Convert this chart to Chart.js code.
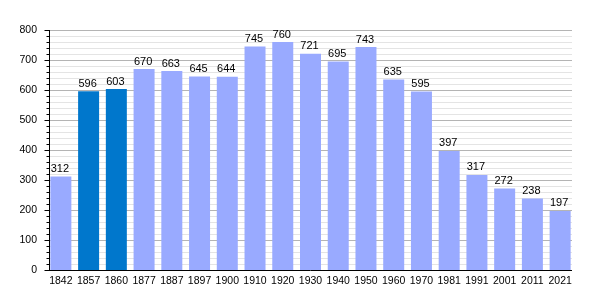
<!DOCTYPE html>
<html>
<head>
<meta charset="utf-8">
<script src="https://cdn.jsdelivr.net/npm/chart.js@4/dist/chart.umd.min.js"></script>
<style>
  html, body { margin: 0; padding: 0; background: #fff; }
  #wrap { width: 600px; height: 300px; }
</style>
</head>
<body>
<div id="wrap"><canvas id="pop-chart"></canvas></div>
<script>
// Population by census year
const years = ["1842", "1857", "1860", "1877", "1887", "1897", "1900", "1910", "1920", "1930",
               "1940", "1950", "1960", "1970", "1981", "1991", "2001", "2011", "2021"];
const population = [312, 596, 603, 670, 663, 645, 644, 745, 760, 721,
                    695, 743, 635, 595, 397, 317, 272, 238, 197];
// highlighted years (darker bars)
const highlighted = ["1857", "1860"];

const lightBar = "#99aaff";
const darkBar = "#0077cc";

// horizontal extent of the plot: from the left edge of the first bar to the right edge of the last
function plotEdges(chart) {
    const bars = chart.getDatasetMeta(0).data;
    const first = bars[0], last = bars[bars.length - 1];
    return {
        left: Math.round(first.x - first.width / 2),
        right: Math.round(last.x + last.width / 2) + 1
    };
}

// gridlines: darker on hundreds, light every 20
const gridLines = {
    id: "gridLines",
    beforeDatasetsDraw(chart) {
        const ctx = chart.ctx;
        const y = chart.scales.y;
        const e = plotEdges(chart);
        ctx.save();
        ctx.lineWidth = 1;
        for (let v = 20; v <= 800; v += 20) {
            const py = Math.round(y.getPixelForValue(v)) + 0.5;
            ctx.strokeStyle = v % 100 === 0 ? "#b4b4b4" : "#e4e4e4";
            ctx.beginPath();
            ctx.moveTo(e.left, py);
            ctx.lineTo(e.right, py);
            ctx.stroke();
        }
        ctx.restore();
    }
};

// draws the numbers above each bar
const valueLabels = {
    id: "valueLabels",
    afterDatasetsDraw(chart) {
        const ctx = chart.ctx;
        const meta = chart.getDatasetMeta(0);
        ctx.save();
        ctx.font = "11px 'Liberation Sans', Arial, sans-serif";
        ctx.fillStyle = "#000";
        ctx.textAlign = "center";
        ctx.textBaseline = "bottom";
        meta.data.forEach((bar, i) => {
            ctx.fillText(population[i], bar.x - 1, bar.y - 2);
        });
        ctx.restore();
    }
};

// axis lines and the y tick marks (long on hundreds, short otherwise)
const axisMarks = {
    id: "axisMarks",
    afterDraw(chart) {
        const ctx = chart.ctx;
        const area = chart.chartArea;
        const y = chart.scales.y;
        const e = plotEdges(chart);
        const ax = e.left - 0.5;
        ctx.save();
        ctx.strokeStyle = "#000";
        ctx.lineWidth = 1;
        ctx.beginPath();
        for (let v = 0; v <= 800; v += 20) {
            const py = Math.round(y.getPixelForValue(v)) + 0.5;
            const len = v % 100 === 0 ? 5 : 3;
            ctx.moveTo(ax - len, py);
            ctx.lineTo(ax, py);
        }
        ctx.moveTo(ax, area.top);
        ctx.lineTo(ax, area.bottom);
        ctx.moveTo(ax - 0.5, area.bottom + 0.5);
        ctx.lineTo(e.right, area.bottom + 0.5);
        ctx.stroke();
        ctx.restore();
    }
};

new Chart(document.getElementById("pop-chart"), {
    type: "bar",
    data: {
        labels: years,
        datasets: [{
            data: population,
            backgroundColor: years.map(y => highlighted.includes(y) ? darkBar : lightBar),
            borderWidth: 0,
            barPercentage: 0.757,
            categoryPercentage: 1
        }]
    },
    options: {
        responsive: true,
        maintainAspectRatio: false,
        animation: false,
        layout: { padding: { top: 30, right: 26, bottom: 0, left: 0 } },
        plugins: {
            legend: { display: false },
            tooltip: { enabled: false }
        },
        scales: {
            x: {
                grid: { display: false, drawTicks: false },
                border: { display: false },
                ticks: {
                    color: "#000",
                    padding: 5,
                    maxRotation: 0,
                    autoSkip: false,
                    font: { family: "'Liberation Sans', Arial, sans-serif", size: 10.5 }
                },
                afterFit(scale) { scale.height = 30; }
            },
            y: {
                min: 0,
                max: 800,
                grid: { display: false, drawTicks: false },
                border: { display: false },
                ticks: {
                    stepSize: 20,
                    autoSkip: false,
                    padding: 10,
                    color: "#000",
                    font: { family: "'Liberation Sans', Arial, sans-serif", size: 10.5 },
                    callback: v => (v % 100 === 0 ? v : "")
                },
                afterFit(scale) { scale.width = 47; }
            }
        }
    },
    plugins: [gridLines, valueLabels, axisMarks]
});
</script>
</body>
</html>
